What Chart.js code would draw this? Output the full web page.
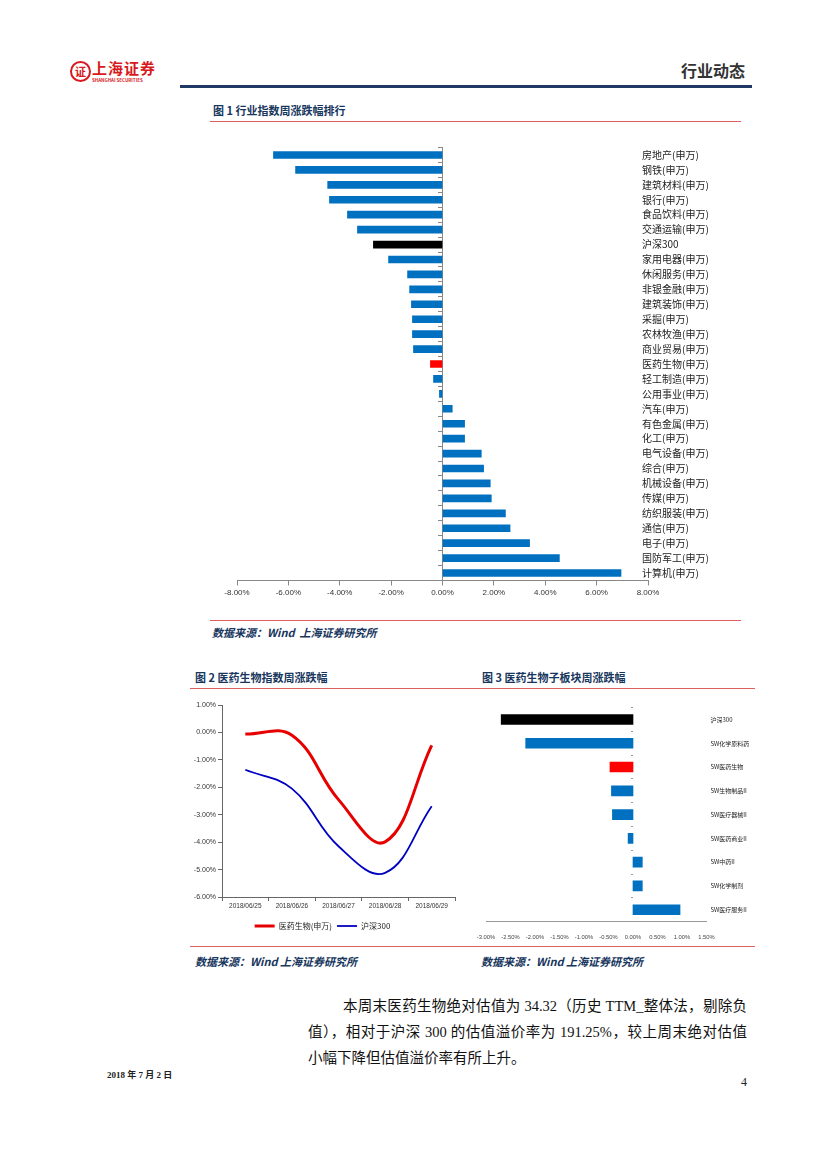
<!DOCTYPE html>
<html>
<head>
<meta charset="utf-8">
<script src="https://cdn.jsdelivr.net/npm/chart.js@4.4.0/dist/chart.umd.min.js"></script>
<style>
body{margin:0;width:827px;height:1169px;position:relative;background:#fff;overflow:hidden;font-family:"Noto Sans CJK SC",sans-serif}
.t{position:absolute;white-space:nowrap;line-height:16px}
.title{font-size:11px;font-weight:bold;color:#17365D}
.src{font-size:11px;font-weight:bold;font-style:italic;color:#17365D}
.rline{position:absolute;height:1px;background:#E06060}
.body{position:absolute;font-size:14.5px;line-height:26px;color:#111;white-space:nowrap;text-align:justify;text-align-last:justify;font-family:'Liberation Serif','Noto Sans CJK SC',serif}
canvas{position:absolute}
</style>
</head>
<body>

<!-- 页眉 -->
<div class="t" style="left:70px;top:61px;width:17px;height:17px;border:2px solid #D71920;border-radius:50%;line-height:17px;text-align:center;color:#D71920;font-size:11px;font-weight:bold">证</div>
<div class="t" style="left:92px;top:58px;font-size:15px;font-weight:bold;color:#D71920;letter-spacing:1px;line-height:20px">上海证券</div>
<div class="t" style="left:92px;top:77px;font-size:4.5px;font-weight:bold;color:#D71920;line-height:6px">SHANGHAI SECURITIES</div>
<div class="t" style="left:681px;top:60px;font-size:16px;font-weight:bold;color:#333;line-height:20px">行业动态</div>
<div style="position:absolute;left:180px;top:85px;width:572px;height:3px;background:#1F3864"></div>

<!-- 图1 -->
<div class="t title" style="left:213px;top:102px">图 1 行业指数周涨跌幅排行</div>
<div class="rline" style="left:210px;top:121px;width:531px"></div>
<canvas id="chartHangye" width="560" height="470" style="left:200px;top:140px"></canvas>
<div class="rline" style="left:210px;top:620px;width:531px"></div>
<div class="t src" style="left:212px;top:624px">数据来源：Wind&nbsp; 上海证券研究所</div>

<!-- 图2 图3 -->
<div class="t title" style="left:195px;top:669px">图 2 医药生物指数周涨跌幅</div>
<div class="t title" style="left:482px;top:669px">图 3 医药生物子板块周涨跌幅</div>
<div class="rline" style="left:190px;top:688px;width:565px"></div>
<canvas id="chartYiyao" width="280" height="245" style="left:190px;top:695px"></canvas>
<canvas id="chartBankuai" width="290" height="245" style="left:470px;top:700px"></canvas>
<div class="rline" style="left:190px;top:946px;width:565px"></div>
<div class="t src" style="left:195px;top:953px">数据来源：Wind 上海证券研究所</div>
<div class="t src" style="left:481px;top:953px">数据来源：Wind 上海证券研究所</div>

<!-- 正文 -->
<div class="body" style="left:343px;top:993px;width:404px">本周末医药生物绝对估值为 34.32（历史 TTM_整体法，剔除负</div>
<div class="body" style="left:308px;top:1019px;width:439px">值），相对于沪深 300 的估值溢价率为 191.25%，较上周末绝对估值</div>
<div class="body" style="left:308px;top:1045px;text-align-last:left">小幅下降但估值溢价率有所上升。</div>

<div class="t" style="left:107px;top:1067px;font-size:9px;font-weight:bold;color:#222;font-family:'Liberation Serif','Noto Sans CJK SC',serif">2018 年 7 月 2 日</div>
<div class="t" style="left:741px;top:1074px;font-size:12px;color:#222;font-family:'Liberation Serif',serif">4</div>

<script>
// 图1 行业指数周涨跌幅
let hangye = ['房地产(申万)','钢铁(申万)','建筑材料(申万)','银行(申万)','食品饮料(申万)','交通运输(申万)','沪深300',
    '家用电器(申万)','休闲服务(申万)','非银金融(申万)','建筑装饰(申万)','采掘(申万)','农林牧渔(申万)','商业贸易(申万)',
    '医药生物(申万)','轻工制造(申万)','公用事业(申万)','汽车(申万)','有色金属(申万)','化工(申万)','电气设备(申万)',
    '综合(申万)','机械设备(申万)','传媒(申万)','纺织服装(申万)','通信(申万)','电子(申万)','国防军工(申万)','计算机(申万)'];
let hangyeZhangdie = [-6.58,-5.72,-4.47,-4.40,-3.70,-3.31,-2.69,
    -2.10,-1.36,-1.28,-1.21,-1.17,-1.17,-1.13,
    -0.47,-0.35,-0.12,0.38,0.86,0.86,1.51,
    1.60,1.86,1.90,2.45,2.63,3.39,4.55,6.95];
let xTicks1 = [-8,-6,-4,-2,0,2,4,6,8];

// 图2 医药生物指数周涨跌幅（累计）
let riqi = ['2018/06/25','2018/06/26','2018/06/27','2018/06/28','2018/06/29'];
let yiyaoLeiji = [-0.06,-0.10,-2.45,-3.99,-0.47];
let hushenLeiji = [-1.36,-2.05,-4.15,-5.12,-2.69];

// 图3 子板块周涨跌幅
let bankuai = ['沪深300','SW化学原料药','SW医药生物','SW生物制品II','SW医疗器械II','SW医药商业II','SW中药II','SW化学制剂','SW医疗服务II'];
let bankuaiZhangdie = [-2.69,-2.19,-0.47,-0.44,-0.42,-0.10,0.19,0.19,0.96];

const AZUL = 'rgb(0,112,192)';
function colorDe(nombre){
    if(nombre == '沪深300') return '#000000';
    if(nombre.indexOf('医药生物') >= 0) return '#FF0000';
    return AZUL;
}
const pct = v => Number(v).toFixed(2) + '%';
// 右侧标签要压进绘图区一点，不让轴把它裁掉
const sinRecorte = s => { s._computeLabelArea = () => undefined; };

Chart.defaults.font.family = "'Noto Sans CJK SC', 'Liberation Sans', sans-serif";

let chartHangye = new Chart(document.getElementById('chartHangye'), {
    type: 'bar',
    data: {
        labels: hangye,
        datasets: [{
            data: hangyeZhangdie,
            backgroundColor: hangye.map(colorDe),
            barThickness: 7,
            yAxisID: 'y'
        }]
    },
    options: {
        indexAxis: 'y',
        responsive: false,
        animation: false,
        layout: {padding: {left: 37, top: 7.5, right: 0, bottom: 0}},
        plugins: {legend: {display: false}, tooltip: {enabled: false}},
        scales: {
            x: {
                min: -8, max: 8,
                afterBuildTicks: s => { s.ticks = xTicks1.map(v => ({value: v})); },
                ticks: {callback: pct, font: {size: 8, family: "'Liberation Sans', sans-serif"}, color: '#333', padding: 2, maxRotation: 0},
                grid: {drawOnChartArea: false, tickLength: 5, color: '#888'},
                border: {color: '#888'},
                afterFit: s => { s.height = 29.5; }
            },
            y: {
                position: {x: 0},
                offset: true,
                ticks: {display: false},
                grid: {drawOnChartArea: false, offset: true, tickLength: 4, color: '#888'},
                border: {color: '#888'}
            },
            y2: {
                type: 'category',
                labels: hangye,
                position: 'right',
                offset: true,
                grid: {display: false, drawTicks: false},
                border: {display: false},
                ticks: {padding: -6, font: {size: 10}, color: '#222', autoSkip: false},
                afterFit: s => { s.width = 112; },
                afterUpdate: sinRecorte
            }
        }
    }
});

let chartYiyao = new Chart(document.getElementById('chartYiyao'), {
    type: 'line',
    data: {
        labels: riqi,
        datasets: [
            {label: '医药生物(申万)', data: yiyaoLeiji, borderColor: '#E60000', backgroundColor: '#E60000', borderWidth: 3, pointRadius: 0, tension: 0.4},
            {label: '沪深300', data: hushenLeiji, borderColor: '#0000C0', backgroundColor: '#0000C0', borderWidth: 1.8, pointRadius: 0, tension: 0.4}
        ]
    },
    options: {
        responsive: false,
        animation: false,
        layout: {padding: {left: 0, top: 10, right: 15, bottom: 0}},
        plugins: {
            tooltip: {enabled: false},
            legend: {
                position: 'bottom',
                labels: {usePointStyle: true, pointStyle: 'line', pointStyleWidth: 20, font: {size: 8}, color: '#222', padding: 5}
            }
        },
        scales: {
            x: {
                offset: true,
                grid: {offset: true, drawOnChartArea: false, tickLength: 4, color: '#666'},
                border: {color: '#666'},
                ticks: {font: {size: 6.5, family: "'Liberation Sans', sans-serif"}, color: '#333', maxRotation: 0, autoSkip: false, padding: 1},
                afterFit: s => { s.height = 20; }
            },
            y: {
                min: -6, max: 1,
                ticks: {stepSize: 1, callback: pct, font: {size: 7, family: "'Liberation Sans', sans-serif"}, color: '#333', padding: 2},
                grid: {drawOnChartArea: false, tickLength: 4, color: '#666'},
                border: {color: '#666'},
                afterFit: s => { s.width = 32; }
            }
        }
    }
});

let chartBankuai = new Chart(document.getElementById('chartBankuai'), {
    type: 'bar',
    data: {
        labels: bankuai,
        datasets: [{
            data: bankuaiZhangdie,
            backgroundColor: bankuai.map(colorDe),
            barThickness: 10,
            yAxisID: 'y'
        }]
    },
    options: {
        indexAxis: 'y',
        responsive: false,
        animation: false,
        layout: {padding: {left: 16, top: 4.4, right: 0, bottom: 0}},
        plugins: {legend: {display: false}, tooltip: {enabled: false}},
        scales: {
            x: {
                min: -3, max: 1.5,
                ticks: {stepSize: 0.5, callback: pct, font: {size: 5.8, family: "'Liberation Sans', sans-serif"}, color: '#444', padding: 4, maxRotation: 0, autoSkip: false},
                grid: {display: false},
                border: {color: '#999'},
                afterFit: s => { s.height = 23.4; }
            },
            y: {
                position: {x: 0},
                offset: true,
                ticks: {display: false},
                grid: {drawOnChartArea: false, offset: true, tickLength: 2, color: '#99a'},
                border: {display: false}
            },
            y2: {
                type: 'category',
                labels: bankuai,
                position: 'right',
                offset: true,
                grid: {display: false, drawTicks: false},
                border: {display: false},
                ticks: {padding: 4, font: {size: 6}, color: '#222', autoSkip: false},
                afterFit: s => { s.width = 53.5; }
            }
        }
    }
});
</script>
</body>
</html>
